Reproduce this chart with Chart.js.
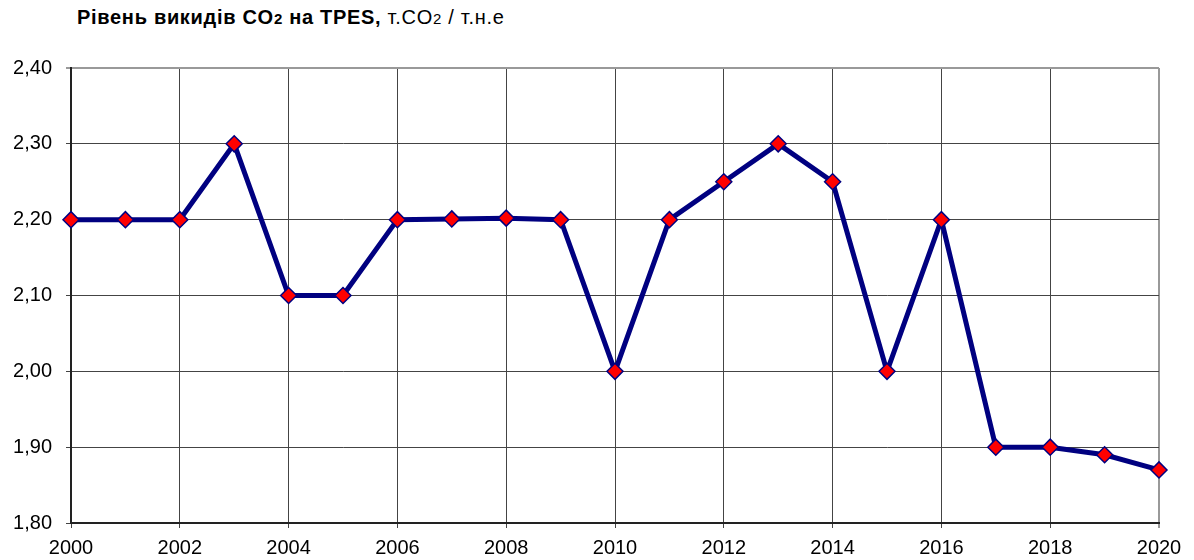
<!DOCTYPE html>
<html>
<head>
  <meta charset="utf-8">
  <title>CO2 / TPES</title>
  <style>
    html, body { margin: 0; padding: 0; background: #fff; }
    .wrap { position: relative; width: 1194px; height: 560px; }
    #co2Chart { position: absolute; left: 0; top: 0; }
    .title {
      position: absolute; left: 77px; top: 6px;
      font-family: "Liberation Sans", Arial, sans-serif;
      font-size: 20px; letter-spacing: 0.7px; color: #000; white-space: nowrap;
    }
    .title b { font-weight: bold; }
    .title .sub { font-size: 15px; }
  </style>
</head>
<body>
<div class="wrap">
  <div class="title"><b>Рівень викидів CO<span class="sub">2</span> на TPES,</b> т.CO<span class="sub">2</span> / т.н.е</div>
  <canvas id="co2Chart" width="1194" height="560"></canvas>
</div>

<script src="https://cdn.jsdelivr.net/npm/chart.js"></script>
<script>
// years and emission level (t CO2 per t.o.e.)
const years = [2000, 2001, 2002, 2003, 2004, 2005, 2006, 2007, 2008, 2009, 2010,
               2011, 2012, 2013, 2014, 2015, 2016, 2017, 2018, 2019, 2020];
const co2Values = [2.20, 2.20, 2.20, 2.30, 2.10, 2.10, 2.20, 2.201, 2.202, 2.20, 2.00,
                   2.20, 2.25, 2.30, 2.25, 2.00, 2.20, 1.90, 1.90, 1.89, 1.87];
const yTicks = [1.80, 1.90, 2.00, 2.10, 2.20, 2.30, 2.40];

const points = years.map((yr, i) => ({ x: yr, y: co2Values[i] }));

const tickFont = { family: '"Liberation Sans", Arial, sans-serif', size: 20 };

new Chart(document.getElementById('co2Chart'), {
  type: 'line',
  data: {
    datasets: [{
      data: points,
      borderColor: '#000080',
      borderWidth: 5,
      pointStyle: 'rectRot',
      pointRadius: 8,
      pointBackgroundColor: '#ff0000',
      pointBorderColor: '#000080',
      pointBorderWidth: 1.5,
      tension: 0,
      clip: false
    }]
  },
  options: {
    responsive: false,
    animation: false,
    layout: { padding: { top: 68, right: 35, left: 0, bottom: 0 } },
    plugins: { legend: { display: false }, tooltip: { enabled: false } },
    scales: {
      x: {
        type: 'linear',
        min: 2000,
        max: 2020,
        afterFit: s => { s.height = 37; },
        ticks: {
          stepSize: 2,
          color: '#000',
          font: tickFont,
          padding: 8,
          maxRotation: 0,
          callback: v => String(v)
        },
        grid: {
          // outer right line is lighter, like the frame in the original
          color: c => (c.tick && c.tick.value === 2020) ? '#999' : '#444',
          lineWidth: c => (c.tick && c.tick.value === 2020) ? 2 : 1,
          tickLength: 5
        },
        border: { color: '#222', width: 2 }
      },
      y: {
        min: 1.80,
        max: 2.40,
        afterFit: s => { s.width = 71; },
        afterBuildTicks: s => { s.ticks = yTicks.map(v => ({ value: v })); },
        ticks: {
          color: '#000',
          font: tickFont,
          padding: 14,
          callback: v => v.toFixed(2).replace('.', ',')
        },
        grid: {
          color: c => (c.tick && Math.abs(c.tick.value - 2.4) < 1e-9) ? '#999' : '#444',
          lineWidth: c => (c.tick && Math.abs(c.tick.value - 2.4) < 1e-9) ? 2 : 1,
          tickLength: 5
        },
        border: { color: '#222', width: 2 }
      }
    }
  }
});
</script>
</body>
</html>
